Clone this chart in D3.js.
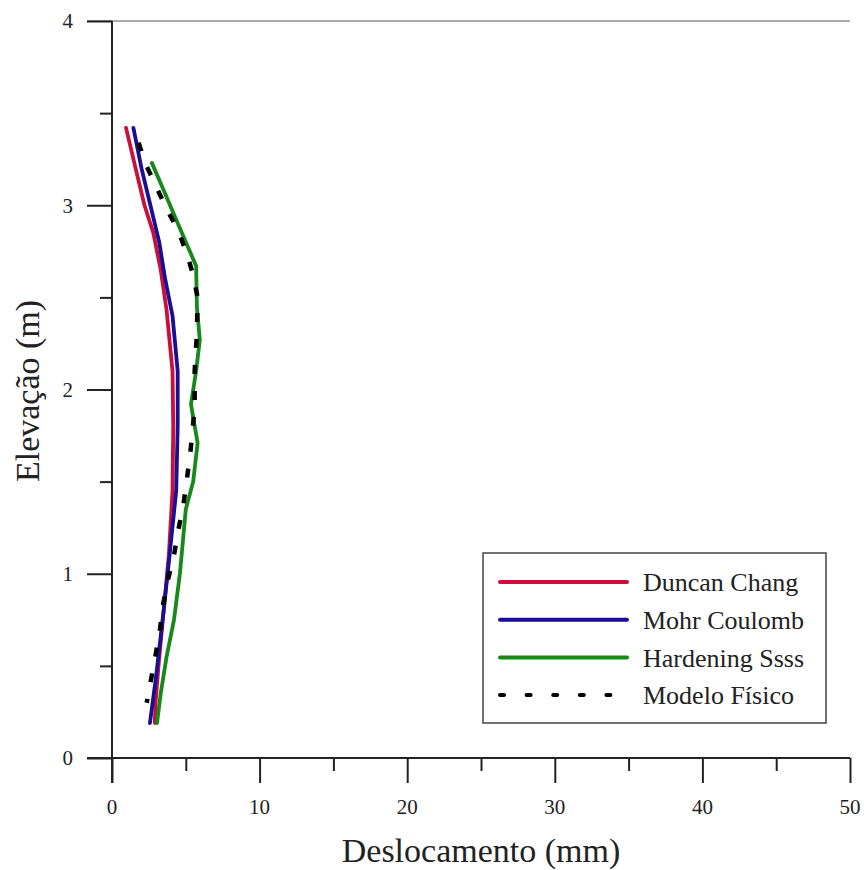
<!DOCTYPE html>
<html><head><meta charset="utf-8">
<script src="https://cdn.jsdelivr.net/npm/d3@7"></script>
<style>body{margin:0;background:#fff}svg{display:block}</style>
</head><body>
<script>
// Data (displacement mm, elevation m)
const duncanChang = [[0.95,3.42],[1.6,3.2],[2.2,3.0],[2.8,2.85],[3.3,2.65],[3.7,2.43],[4.1,2.1],[4.15,1.8],[4.1,1.45],[3.85,1.1],[3.5,0.8],[3.15,0.5],[2.95,0.3],[2.9,0.19]];
const mohrCoulomb = [[1.45,3.42],[2.0,3.2],[2.6,3.0],[3.2,2.8],[3.6,2.6],[4.1,2.4],[4.45,2.1],[4.45,1.8],[4.35,1.45],[3.9,1.1],[3.5,0.8],[3.0,0.45],[2.57,0.19]];
const hardening = [[2.7,3.23],[3.4,3.1],[4.2,2.95],[4.95,2.81],[5.7,2.67],[5.75,2.45],[5.95,2.27],[5.7,2.1],[5.35,1.92],[5.8,1.71],[5.5,1.5],[5.0,1.35],[4.6,1.0],[4.2,0.75],[3.7,0.55],[3.3,0.35],[3.05,0.19]];
const modeloFisico = [[1.8,3.34],[2.3,3.22],[3.0,3.1],[3.7,2.98],[4.5,2.86],[5.1,2.73],[5.5,2.62],[5.8,2.5],[5.75,2.3],[5.6,2.1],[5.6,1.9],[5.3,1.65],[4.85,1.38],[4.5,1.24],[4.2,1.1],[3.8,0.97],[3.5,0.85],[3.25,0.7],[3.0,0.58],[2.7,0.45],[2.35,0.3]];
const seriesNames = ["Duncan Chang","Mohr Coulomb","Hardening Ssss","Modelo Físico"];
const xTicks = [0,10,20,30,40,50];
const yTicks = [0,1,2,3,4];

const W=864,H=870;
const svg=d3.select("body").append("svg").attr("width",W).attr("height",H);
const x=d3.scaleLinear().domain([0,50]).range([112,850]);
const y=d3.scaleLinear().domain([0,4]).range([758,21]);
const serif="'Liberation Serif','Times New Roman',serif";

// top light line
svg.append("line").attr("x1",87).attr("x2",850).attr("y1",y(4)).attr("y2",y(4))
  .attr("stroke","#aaa").attr("stroke-width",2);

// x axis
const gx=svg.append("g").attr("transform",`translate(0,${y(0)})`);
gx.call(d3.axisBottom(x).tickValues(d3.range(0,51,5)).tickSize(13).tickFormat(""));
gx.selectAll(".tick line").filter(d=>d%10===0).attr("y2",25);
gx.select(".domain").attr("d",`M87,0H850`);
gx.selectAll("path,line").attr("stroke","#222").attr("stroke-width",2);
gx.selectAll(".tt").data(xTicks).enter().append("text")
  .attr("x",d=>x(d)).attr("y",56).attr("text-anchor","middle")
  .attr("font-family",serif).attr("font-size",21).attr("fill","#222").text(d=>d);

// y axis
const gy=svg.append("g").attr("transform",`translate(${x(0)},0)`);
gy.call(d3.axisLeft(y).tickValues(d3.range(0,4.01,0.5)).tickSize(12).tickFormat(""));
gy.selectAll(".tick line").filter(d=>Math.abs(d-Math.round(d))<1e-6).attr("x2",-25);
gy.select(".domain").attr("d",`M0,${y(4)}V783`);
gy.selectAll("path,line").attr("stroke","#222").attr("stroke-width",2);
gy.selectAll(".tt").data(yTicks).enter().append("text")
  .attr("x",-39).attr("y",d=>y(d)).attr("dy","0.35em").attr("text-anchor","end")
  .attr("font-family",serif).attr("font-size",21).attr("fill","#222").text(d=>d);

// titles
svg.append("text").attr("x",481).attr("y",862).attr("text-anchor","middle")
  .attr("font-family",serif).attr("font-size",34).attr("fill","#222").text("Deslocamento (mm)");
svg.append("text").attr("transform",`translate(39,391) rotate(-90)`).attr("text-anchor","middle")
  .attr("font-family",serif).attr("font-size",34).attr("fill","#222").text("Elevação (m)");

// lines
const line=d3.line().x(d=>x(d[0])).y(d=>y(d[1])).curve(d3.curveLinear);
const styles=[
  {data:duncanChang,color:"#c8103a",dash:null},
  {data:mohrCoulomb,color:"#1a0e96",dash:null},
  {data:hardening,color:"#16891a",dash:null},
  {data:modeloFisico,color:"#000",dash:"9,17"}
];
styles.forEach(s=>{
  svg.append("path").attr("d",line(s.data)).attr("fill","none")
    .attr("stroke",s.color).attr("stroke-width",s.dash?4.5:3.8)
    .attr("stroke-linejoin","round").attr("stroke-linecap",s.dash?"butt":"round")
    .attr("stroke-dasharray",s.dash);
});

// legend
const lg=svg.append("g");
lg.append("rect").attr("x",483).attr("y",553).attr("width",343).attr("height",170)
  .attr("fill","#fff").attr("stroke","#444").attr("stroke-width",1.5);
seriesNames.forEach((n,i)=>{
  const yy=582+i*37.7;
  lg.append("line").attr("x1",500).attr("x2",627).attr("y1",yy).attr("y2",yy)
    .attr("stroke",styles[i].color).attr("stroke-width",4)
    .attr("stroke-linecap","round")
    .attr("stroke-dasharray",styles[i].dash?"4,22.6":null);
  lg.append("text").attr("x",643).attr("y",yy).attr("dy","0.35em")
    .attr("font-family",serif).attr("font-size",26).attr("fill","#222").text(n);
});
</script>
</body></html>
